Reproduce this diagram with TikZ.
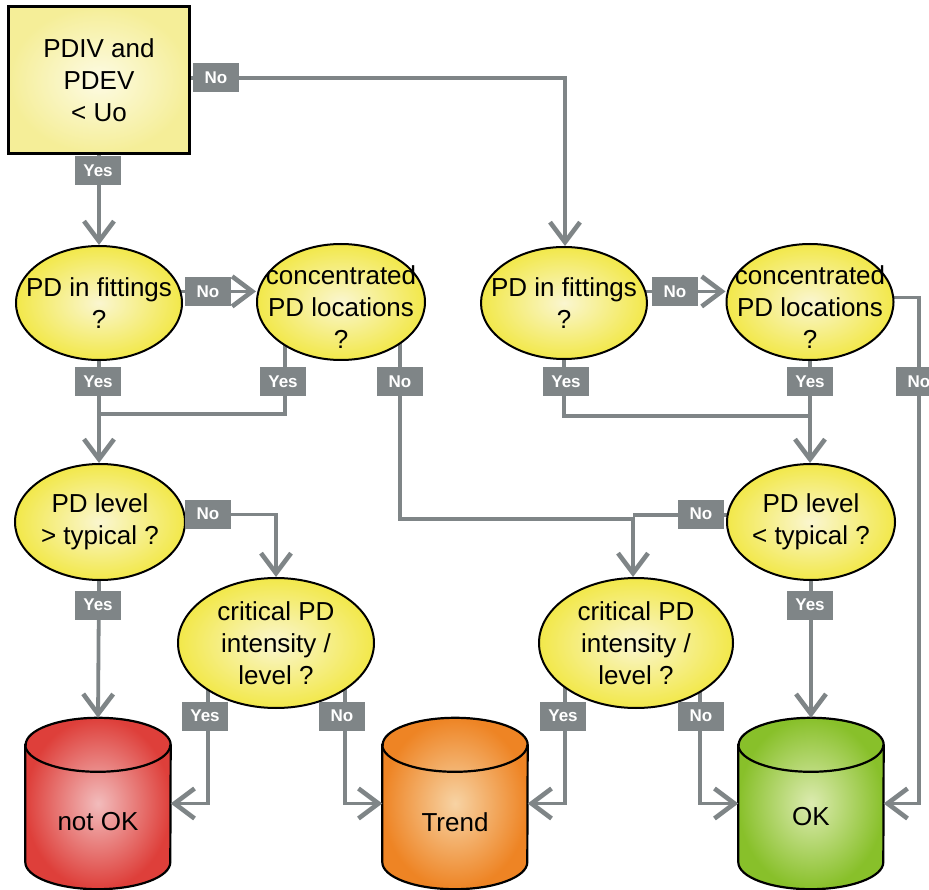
\documentclass[tikz,border=0pt]{standalone}
\usepackage{fontspec}
\setmainfont{Liberation Sans}
\usetikzlibrary{shapes.geometric,arrows.meta,calc,backgrounds}
\definecolor{conngray}{HTML}{7F8587}
\definecolor{ylwout}{HTML}{F2E84A}
\definecolor{ylwin}{HTML}{FAF6D0}
\definecolor{boxout}{HTML}{F5EE98}
\definecolor{boxin}{HTML}{FDFBE4}
\definecolor{redout}{HTML}{DE3F3A}
\definecolor{redin}{HTML}{F2BCBC}
\definecolor{orgout}{HTML}{EE8424}
\definecolor{orgin}{HTML}{F7D3A4}
\definecolor{grnout}{HTML}{88C02A}
\definecolor{grnin}{HTML}{DCEBB0}
\tikzset{
  maintext/.style={font=\fontsize{26}{32}\selectfont, align=center, text=black, inner sep=0pt},
  startbox/.style={rectangle, draw=black, line width=2.4pt, inner color=boxin, outer color=boxout,
    minimum width=181pt, minimum height=147pt, inner sep=0pt, maintext},
  decision/.style={ellipse, draw=black, line width=2pt, inner color=ylwin, outer color=ylwout,
    inner sep=0pt},
  cylnode/.style={rectangle, minimum width=145pt, minimum height=171pt, inner sep=0pt},
  conn/.style={draw=conngray, line width=3.8pt, line cap=butt},
  arr/.style={conn, -{Straight Barb[length=20pt,width=30pt,line width=4.6pt]}},
  lbl/.style={rectangle, fill=conngray, text=white, font=\bfseries\fontsize{17}{17}\selectfont,
    minimum width=46pt, minimum height=29pt, inner sep=0pt},
}
\newcommand{\mycyl}[3]{% node, outer, inner
  \path[draw=black, line width=2.2pt, inner color=#3, outer color=#2]
    ($(#1.north west)+(0,27)$) -- ($(#1.south west)+(0,-27)$)
    arc[start angle=180, end angle=0, x radius=72.5, y radius=27]
    -- ($(#1.north east)+(0,27)$)
    arc[start angle=360, end angle=180, x radius=72.5, y radius=27] -- cycle;
  \draw[black, line width=2.2pt] ($(#1.north west)+(0,27)$)
    arc[start angle=180, end angle=0, x radius=72.5, y radius=27];
}
\begin{document}
\begin{tikzpicture}[x=1pt, y=-1pt]
\useasboundingbox (0,0) rectangle (929,890);
\clip (0,0) rectangle (929,890);

% nodes
\node[startbox] (top) at (99,80) {PDIV and\\PDEV\\< Uo};
\node[decision, minimum width=166pt, minimum height=114pt,
  label={[maintext]center:{PD in fittings\\?}}] (e1) at (99,303) {};
\node[decision, minimum width=168pt, minimum height=116pt,
  label={[maintext, yshift=-5pt]center:{concentrated\\PD locations\\?}}] (e2) at (341,302) {};
\node[decision, minimum width=166pt, minimum height=112pt,
  label={[maintext]center:{PD in fittings\\?}}] (e3) at (564,303) {};
\node[decision, minimum width=167pt, minimum height=116pt,
  label={[maintext, yshift=-5pt]center:{concentrated\\PD locations\\?}}] (e4) at (810,302) {};
\node[decision, minimum width=170pt, minimum height=116pt,
  label={[maintext]center:{PD level\\> typical ?}}] (e5) at (100,522) {};
\node[decision, minimum width=196pt, minimum height=130pt,
  label={[maintext]center:{critical PD\\intensity /\\level ?}}] (e6) at (276,643) {};
\node[decision, minimum width=194pt, minimum height=130pt,
  label={[maintext]center:{critical PD\\intensity /\\level ?}}] (e7) at (636,643) {};
\node[decision, minimum width=168pt, minimum height=116pt,
  label={[maintext]center:{PD level\\< typical ?}}] (e8) at (811,522) {};
\node[cylnode] (notok) at (98,803.5) {};
\node[cylnode] (trend) at (455,803.5) {};
\node[cylnode] (ok) at (811,803.5) {};

\begin{scope}[on background layer]
  \mycyl{notok}{redout}{redin}
  \mycyl{trend}{orgout}{orgin}
  \mycyl{ok}{grnout}{grnin}
  % connectors
  \draw[arr] (top.south -| e1.north) -- (e1.north);
  \draw[arr] ($(top.east)+(0,-2)$) -| ($(e3.north)+(1,0)$);
  \draw[arr] (e1.8) -- (e1.8 -| e2.west);
  \draw[arr] (e3.8) -- (e3.8 -| e4.west);
  \draw[arr] (e1.south) -- (e1.south |- e5.north);
  \draw[conn] ($(e2.center)+(-56,0)$) |- ($(e1.south)+(0,53)$);
  \draw[arr] ($(e2.center)+(59,0)$) |- ($(e7.north)+(-3,-58)$) -- ($(e7.north)+(-3,0)$);
  \draw[conn] (e3.center) |- ($(e4.south)+(0,55)$);
  \draw[arr] (e4.south) -- (e4.south |- e8.north);
  \draw[arr] (e4.3) -| ($(ok.east)+(35,0)$) -- (ok.east);
  \draw[arr] (e5.5) -| (e6.north);
  \draw[arr] (e5.south -| e1.south) -- (notok.north);
  \draw[conn] (e8.175) -- ($(e8.175 -| e7.north)+(-3,0)$);
  \draw[arr] (e8.south) -- (ok.north);
  \draw[arr] ($(e6.center)+(-68,0)$) |- (notok.east);
  \draw[arr] ($(e6.center)+(69,0)$) |- (trend.west);
  \draw[arr] ($(e7.center)+(-71,0)$) |- (trend.east);
  \draw[arr] ($(e7.center)+(64,0)$) |- (ok.west);
\end{scope}

% cylinder texts
\node[maintext] (tnotok) at (98,822) {not OK};
\node[maintext] (ttrend) at (455,822) {Trend};
\node[maintext] (tok) at (811,817) {OK};

% labels
\node[lbl] (l1) at (98,171) {Yes};
\node[lbl] (l2) at (216,78) {No};
\node[lbl] (l3) at (208,292) {No};
\node[lbl] (l4) at (675,292) {No};
\node[lbl] (l5) at (98,382) {Yes};
\node[lbl] (l6) at (283,382) {Yes};
\node[lbl] (l7) at (400,382) {No};
\node[lbl] (l8) at (566,382) {Yes};
\node[lbl] (l9) at (810,382) {Yes};
\node[lbl] (l10) at (919,382) {No};
\node[lbl] (l11) at (208,514) {No};
\node[lbl] (l12) at (701,514) {No};
\node[lbl] (l13) at (98,605) {Yes};
\node[lbl] (l14) at (810,605) {Yes};
\node[lbl] (l15) at (205,716) {Yes};
\node[lbl] (l16) at (342,716) {No};
\node[lbl] (l17) at (563,716) {Yes};
\node[lbl] (l18) at (701,716) {No};
\end{tikzpicture}
\end{document}
